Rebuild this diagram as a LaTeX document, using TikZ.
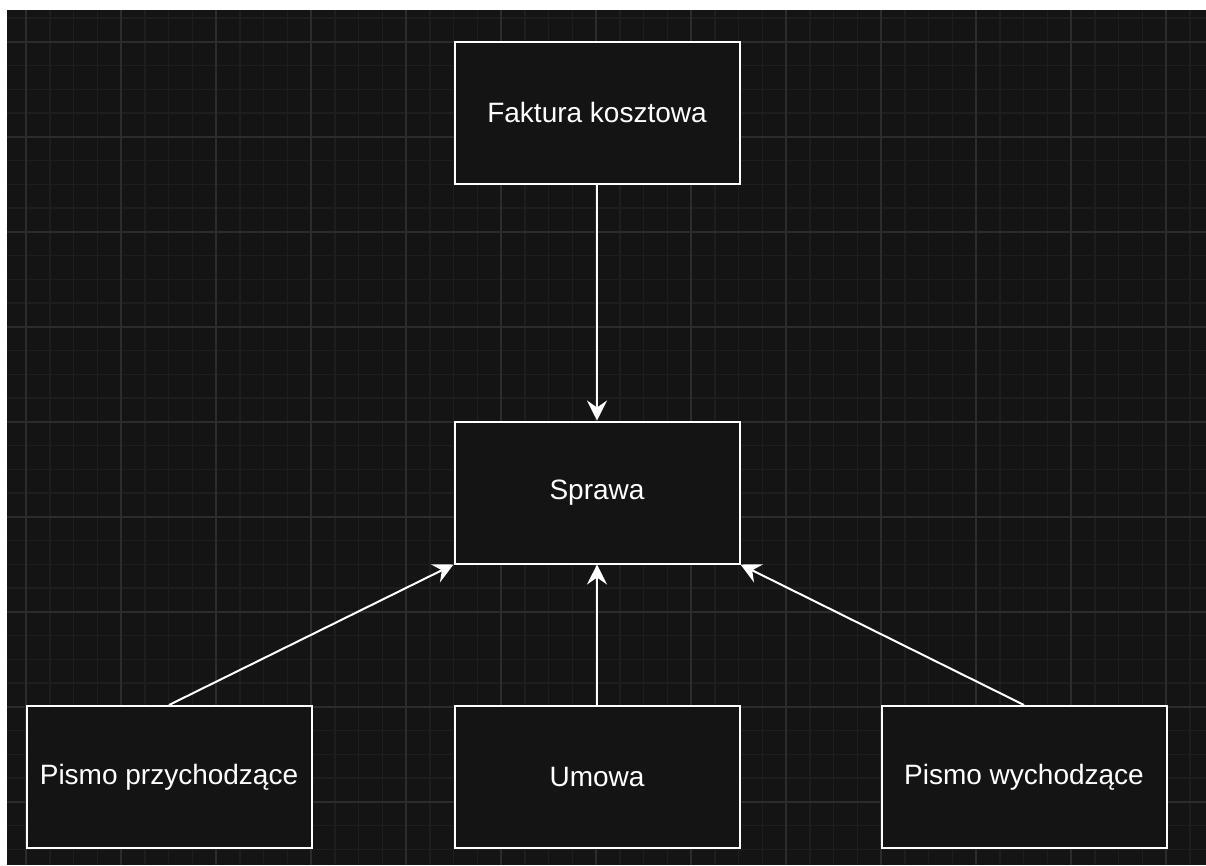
\documentclass[tikz,border=0pt]{standalone}
\usepackage{fontspec}
\setmainfont{Liberation Sans}
\usetikzlibrary{arrows.meta}
\definecolor{canvas}{HTML}{141414}
\definecolor{gridmajor}{HTML}{2C2C2C}
\definecolor{gridminor}{HTML}{1E1E1E}
\tikzset{
	entity/.style={draw=white, line width=2pt, fill=canvas, text=white,
		minimum width=285pt, minimum height=142pt, inner sep=0pt,
		font=\fontsize{28}{34}\selectfont},
	link/.style={draw=white, line width=2pt,
		-{Stealth[length=20pt,width=20pt,inset=7pt]}}
}
\begin{document}
\begin{tikzpicture}[x=1pt,y=-1pt]
	\useasboundingbox (0,0) rectangle (1206,865);
	\fill[white] (0,0) rectangle (1206,865);
	\fill[canvas] (7,10) rectangle (1206,865);
	\begin{scope}
		\clip (7,10) rectangle (1206,865);
		\foreach \x in {0,...,51} \draw[gridminor,line width=1.5pt] ({2.25+23.75*\x},10) --++ (0,855);
		\foreach \y in {0,...,36} \draw[gridminor,line width=1.5pt] (7,{18+23.75*\y}) --++ (1199,0);
		\foreach \x in {0,...,12} \draw[gridmajor,line width=2pt] ({26+95*\x},10) --++ (0,855);
		\foreach \y in {0,...,8} \draw[gridmajor,line width=2pt] (7,{41.75+95*\y}) --++ (1199,0);
	\end{scope}
	\node[entity] (faktura) at (597,112.5) {Faktura kosztowa};
	\node[entity] (sprawa) at (597,492.5) {Sprawa};
	\node[entity] (przychodzace) at (169,777) {Pismo przychodzące};
	\node[entity] (umowa) at (597,777) {Umowa};
	\node[entity] (wychodzace) at (1024,777) {Pismo wychodzące};
	\draw[link] (faktura) -- (sprawa);
	\draw[link] (przychodzace.north) -- (sprawa.south west);
	\draw[link] (umowa) -- (sprawa);
	\draw[link] (wychodzace.north) -- (sprawa.south east);
\end{tikzpicture}
\end{document}
